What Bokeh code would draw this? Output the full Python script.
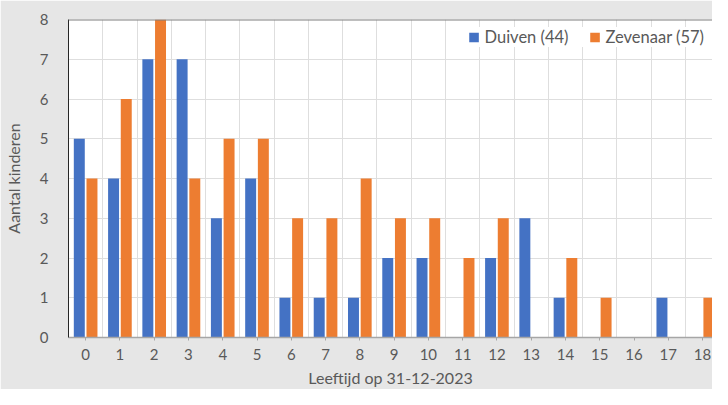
from bokeh.plotting import figure
from bokeh.models import ColumnDataSource, FixedTicker, Span
from bokeh.embed import file_html
from bokeh.resources import INLINE
from bokeh.transform import dodge

ages = list(range(19))
age_labels = [str(a) for a in ages]
duiven = [5, 4, 7, 7, 3, 4, 1, 1, 1, 2, 2, 0, 2, 3, 1, 0, 0, 1, 0]
zevenaar = [4, 6, 8, 4, 5, 5, 3, 3, 4, 3, 3, 2, 3, 0, 2, 1, 0, 0, 1]
series_names = ["Duiven (44)", "Zevenaar (57)"]
colors = ["#4472C4", "#ED7D31"]

src = ColumnDataSource(data=dict(age=ages, duiven=duiven, zevenaar=zevenaar))

FONT = "Lato"
TXT = "#595959"

p = figure(width=712, height=389, output_backend="svg", toolbar_location=None,
           x_range=(-0.5, 18.29), y_range=(0, 8),
           min_border_left=62, min_border_top=19, min_border_bottom=44, min_border_right=0)

p.border_fill_color = "#e6e6e6"
p.background_fill_color = "white"
p.outline_line_color = None

p.vbar(x=dodge("age", -0.185, range=p.x_range), top="duiven", width=0.32, source=src,
       fill_color=colors[0], line_color=None, legend_label=series_names[0])
p.vbar(x=dodge("age", 0.185, range=p.x_range), top="zevenaar", width=0.32, source=src,
       fill_color=colors[1], line_color=None, legend_label=series_names[1])

# grids
p.ygrid.ticker = FixedTicker(ticks=list(range(0, 8)))
p.xgrid.ticker = FixedTicker(ticks=[a + 0.5 for a in range(-1, 19)])
p.xgrid.grid_line_color = "#dedede"
p.ygrid.grid_line_color = "#dedede"

# x axis
p.xaxis.ticker = FixedTicker(ticks=ages)
p.xaxis.major_label_overrides = {a: l for a, l in zip(ages, age_labels)}
p.xaxis.axis_line_color = "#a6a6a6"
p.xaxis.axis_line_width = 1.5
p.xaxis.major_tick_line_color = "#a6a6a6"
p.xaxis.major_tick_in = 0
p.xaxis.major_tick_out = 3
p.xaxis.minor_tick_line_color = None
p.xaxis.major_label_standoff = 8
p.xaxis.axis_label = "Leeftijd op 31-12-2023"
p.xaxis.axis_label_standoff = 5

# y axis
p.yaxis.ticker = FixedTicker(ticks=list(range(0, 9)))
p.yaxis.axis_line_color = "#262626"
p.yaxis.major_tick_line_color = None
p.yaxis.minor_tick_line_color = None
p.yaxis.major_label_standoff = 14
p.yaxis.axis_label = "Aantal kinderen"
p.yaxis.axis_label_standoff = 14

for ax in (p.xaxis, p.yaxis):
    ax.major_label_text_font = FONT
    ax.major_label_text_font_size = "15px"
    ax.major_label_text_color = TXT
    ax.axis_label_text_font = FONT
    ax.axis_label_text_font_size = "16px"
    ax.axis_label_text_font_style = "normal"
    ax.axis_label_text_color = TXT

p.add_layout(Span(location=8, dimension="width", line_color="#7f7f7f", line_width=2, level="overlay"))

lg = p.legend[0]
lg.location = "top_right"
lg.orientation = "horizontal"
lg.border_line_color = None
lg.background_fill_color = "white"
lg.background_fill_alpha = 1
lg.label_text_font = FONT
lg.label_text_font_size = "16.5px"
lg.label_text_color = TXT
lg.glyph_width = 12
lg.glyph_height = 12
lg.label_standoff = 5
lg.spacing = 20
lg.margin = 8
lg.padding = 5

open("out.html", "w").write(file_html(p, INLINE))
